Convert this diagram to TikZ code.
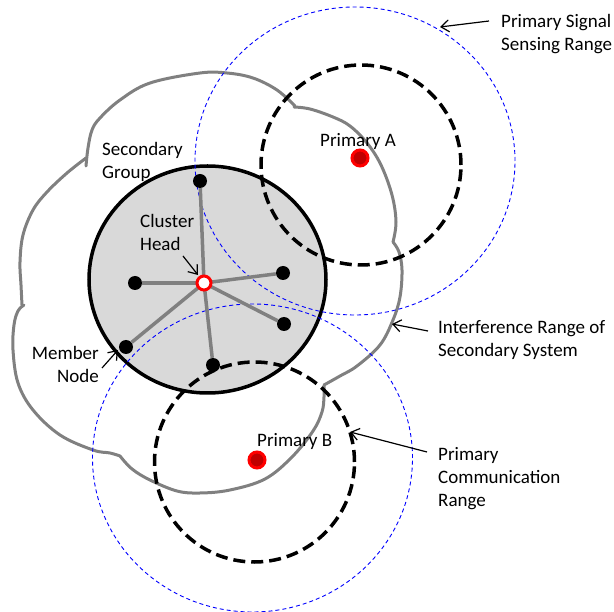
\documentclass[tikz,border=0pt]{standalone}
\usepackage{fontspec}
\setmainfont{Carlito}
\usetikzlibrary{arrows.meta}
\definecolor{groupfill}{RGB}{217,217,217}
\definecolor{cloudgray}{RGB}{128,128,128}
\definecolor{darkred}{RGB}{192,0,0}
\begin{document}
\begin{tikzpicture}[x=1pt,y=-1pt,
  interf/.style={draw=cloudgray, line width=3pt, line join=round, line cap=round},
  sense/.style={draw=blue, line width=0.9pt, dash pattern=on 4pt off 3pt},
  commrange/.style={draw=black, line width=3.5pt, dash pattern=on 12pt off 6pt},
  group/.style={draw=black, line width=3.5pt, fill=groupfill},
  link/.style={draw=cloudgray, line width=3.5pt},
  member/.style={circle, fill=black, inner sep=0pt, minimum size=14pt},
  head/.style={circle, draw=red, line width=3pt, fill=white, inner sep=0pt, minimum size=14pt},
  primary/.style={circle, draw=red, fill=darkred, line width=3pt, inner sep=0pt, minimum size=16pt},
  lbl/.style={font=\fontsize{19}{23}\selectfont, inner sep=0pt},
  pointer/.style={draw=black, line width=1.2pt, -{Straight Barb[length=8pt,width=12pt]}}]
\useasboundingbox (0,0) rectangle (614,612);

% interference range of the secondary system
\draw[interf] plot[smooth, tension=0.6] coordinates {(86,166) (88,148) (92,130) (100,118) (120,100) (150,83) (200,73) (227,73) (253,78) (277,90) (295,106)};
\draw[interf] plot[smooth, tension=0.6] coordinates {(294,107) (310,109) (333,117) (350,126) (367,143) (381,165) (392,195) (396,222) (393,242)};
\draw[interf] plot[smooth, tension=0.6] coordinates {(393,242) (399,252) (402,270) (400,297) (393,320) (380,345) (357,366) (340,376) (324,385)};
\draw[interf] plot[smooth, tension=0.6] coordinates {(324,385) (324,397) (322,412) (313,431) (292,457) (265,479) (230,490) (200,493) (177,491) (150,480) (132,469) (120,456)};
\draw[interf] plot[smooth, tension=0.6] coordinates {(120,456) (110,453) (93,450) (60,435) (33,410) (18,383) (13,350) (14,325) (18,311) (24,305)};
\draw[interf] plot[smooth, tension=0.6] coordinates {(22,305) (21,285) (20,262) (23,235) (33,210) (47,192) (67,173) (86,158)};

% secondary group
\draw[group] (207.5,279.5) ellipse [x radius=118.5pt, y radius=113.5pt];

% primary signal sensing ranges
\draw[sense] (355,161) ellipse [x radius=160pt, y radius=154pt];
\draw[sense] (252.5,458) ellipse [x radius=160pt, y radius=154pt];

% primary communication ranges
\draw[commrange] (361,165) circle [radius=100pt];
\draw[commrange] (254.5,462) circle [radius=100pt];

% cluster members
\node[member] (m1) at (200,181) {};
\node[member] (m2) at (135,283) {};
\node[member] (m3) at (283,273) {};
\node[member] (m4) at (284,324) {};
\node[member] (m5) at (126,347) {};
\node[member] (m6) at (213,365) {};
\coordinate (chc) at (204,283);
\foreach \m in {m1,m2,m3,m4,m5,m6} \draw[link] (chc) -- (\m);
\node[head] (ch) at (chc) {};

% primary users
\node[primary] (pa) at (360,158) {};
\node[primary] (pb) at (257,460) {};

% labels (base anchor sits on the last line)
\node[lbl, anchor=base west] (la) at (320,147) {Primary A};
\node[lbl, anchor=base west] (lb) at (257,447) {Primary B};
\node[lbl, anchor=base west, align=left] (lsg) at (102,179) {Secondary\\Group};
\node[lbl, anchor=base west, align=left] (lch) at (140,251) {Cluster\\Head};
\node[lbl, anchor=base east, align=right] (lmn) at (99,383) {Member\\Node};
\node[lbl, anchor=base west, align=left] (lss) at (501,51) {Primary Signal\\Sensing Range};
\node[lbl, anchor=base west, align=left] (lir) at (438,357) {Interference Range of\\Secondary System};
\node[lbl, anchor=base west, align=left] (lcr) at (438,507) {Primary\\Communication\\Range};

% pointers
\coordinate (ssFrom) at (489,21);   \coordinate (ssTo) at (440,27);
\coordinate (irFrom) at (428,331);  \coordinate (irTo) at (392,324);
\coordinate (crFrom) at (427,452);  \coordinate (crTo) at (350,432);
\coordinate (chFrom) at (183,256);  \coordinate (chTo) at (198,275);
\coordinate (mnFrom) at (102,368);  \coordinate (mnTo) at (118,350);
\draw[pointer] (ssFrom) -- (ssTo);
\draw[pointer] (irFrom) -- (irTo);
\draw[pointer] (crFrom) -- (crTo);
\draw[pointer] (chFrom) -- (chTo);
\draw[pointer] (mnFrom) -- (mnTo);
\end{tikzpicture}
\end{document}
